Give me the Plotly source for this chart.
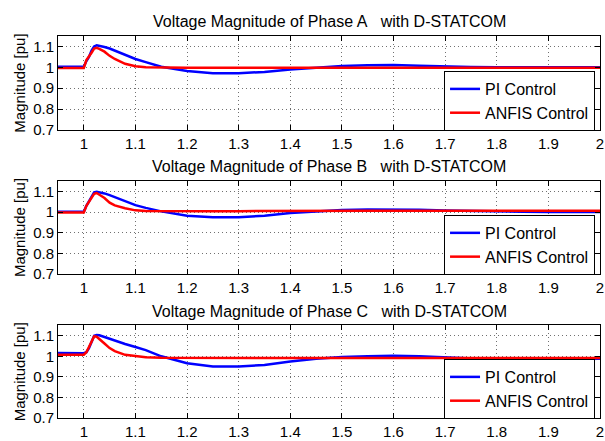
import plotly.graph_objects as go

# ---- data ----
t = [0.95, 1.0, 1.005, 1.01, 1.015, 1.02, 1.025, 1.03, 1.04, 1.05, 1.06, 1.08, 1.1,
     1.12, 1.15, 1.2, 1.25, 1.3, 1.35, 1.4, 1.45, 1.5, 1.55, 1.6, 1.65, 1.7, 1.75,
     1.8, 1.85, 1.9, 1.95, 2.0]

pi_a = [1.003, 1.003, 1.03, 1.05, 1.08, 1.10, 1.105, 1.103, 1.097, 1.09, 1.08, 1.06, 1.04,
        1.025, 1.003, 0.982, 0.972, 0.972, 0.978, 0.99, 0.998, 1.006, 1.010, 1.011, 1.008, 1.004, 1.002,
        1.0, 1.0, 1.0, 1.0, 1.0]
anfis_a = [0.997, 0.997, 1.035, 1.05, 1.07, 1.09, 1.093, 1.088, 1.075, 1.055, 1.04, 1.017, 1.005,
           1.0, 0.998, 0.998, 0.998, 0.998, 0.998, 0.998, 0.998, 0.998, 0.998, 0.998, 0.998, 0.998, 0.998,
           0.998, 0.998, 0.998, 0.998, 0.998]

pi_b = [1.001, 1.001, 1.03, 1.05, 1.075, 1.095, 1.098, 1.096, 1.09, 1.082, 1.072, 1.052, 1.033,
        1.02, 1.003, 0.982, 0.975, 0.975, 0.982, 0.995, 1.003, 1.01, 1.012, 1.012, 1.011, 1.007, 1.004,
        1.002, 1.001, 1.0, 1.0, 1.0]
anfis_b = [0.998, 0.998, 1.03, 1.05, 1.07, 1.088, 1.092, 1.085, 1.068, 1.045, 1.032, 1.018, 1.008,
           1.005, 1.004, 1.004, 1.004, 1.004, 1.005, 1.006, 1.006, 1.006, 1.006, 1.006, 1.006, 1.006, 1.006,
           1.006, 1.006, 1.006, 1.006, 1.006]

pi_c = [1.016, 1.015, 1.02, 1.04, 1.07, 1.10, 1.104, 1.102, 1.094, 1.085, 1.075, 1.06, 1.045,
        1.03, 1.0, 0.966, 0.95, 0.95, 0.958, 0.975, 0.988, 0.997, 1.0, 1.003, 1.0, 0.994, 0.99,
        0.985, 0.985, 0.985, 0.985, 0.988]
anfis_c = [1.008, 1.008, 1.02, 1.045, 1.075, 1.097, 1.095, 1.085, 1.062, 1.04, 1.025, 1.007, 1.0,
           0.995, 0.993, 0.992, 0.992, 0.992, 0.992, 0.992, 0.992, 0.992, 0.992, 0.992, 0.992, 0.992, 0.992,
           0.992, 0.992, 0.992, 0.992, 0.992]

phases = ["A", "B", "C"]
pi_series = [pi_a, pi_b, pi_c]
anfis_series = [anfis_a, anfis_b, anfis_c]

x_ticks = [1, 1.1, 1.2, 1.3, 1.4, 1.5, 1.6, 1.7, 1.8, 1.9, 2]
x_labels = ["1", "1.1", "1.2", "1.3", "1.4", "1.5", "1.6", "1.7", "1.8", "1.9", "2"]
y_ticks = [0.7, 0.8, 0.9, 1.0, 1.1]
y_labels = ["0.7", "0.8", "0.9", "1", "1.1"]

# ---- layout geometry (pixels) ----
W, H = 605, 441
L, R, T, B = 58, 604, 36, 424
panels_px = [(36, 131.5), (183.3, 277.7), (330, 424)]
ph = B - T
pw = R - L

def yfrac(py):
    return min(1.0, max(0.0, (B - py) / ph))

def yfrac_free(py):
    return (B - py) / ph

def xfrac(px):
    return (px - L) / pw

FONT = "Liberation Sans, Arial, sans-serif"

fig = go.Figure()
annotations = []
for i, ph_name in enumerate(phases):
    k = "" if i == 0 else str(i + 1)
    xa = "x" + k
    ya = "y" + k
    lg = "legend" + k
    fig.add_trace(go.Scatter(x=t, y=pi_series[i], mode="lines", name="PI Control",
                             line=dict(color="#0000FF", width=2.5), xaxis=xa, yaxis=ya, legend=lg))
    fig.add_trace(go.Scatter(x=t, y=anfis_series[i], mode="lines", name="ANFIS Control",
                             line=dict(color="#FF0000", width=2.5), xaxis=xa, yaxis=ya, legend=lg))
    top, bot = panels_px[i]
    dom = [yfrac(bot), yfrac(top)]
    axcommon = dict(showline=True, linecolor="black", linewidth=1, mirror="ticks",
                    ticks="inside", ticklen=5, tickcolor="black",
                    showgrid=True, gridcolor="#707070", griddash="1px,3px", gridwidth=1,
                    zeroline=False, ticklabeloverflow="allow",
                    tickfont=dict(family=FONT, size=15, color="black"))
    fig.update_layout(**{
        ("xaxis" + k): dict(domain=[0, 1], range=[0.95, 2.0], tickvals=x_ticks, ticktext=x_labels,
                            anchor=ya, **axcommon),
        ("yaxis" + k): dict(domain=dom, range=[0.7, 1.15], tickvals=y_ticks, ticktext=y_labels,
                            anchor=xa, title=dict(text="Magnitude [pu]", standoff=3,
                                                  font=dict(family=FONT, size=15, color="black")),
                            **axcommon),
        lg: dict(x=xfrac(599), y=yfrac_free(bot + 1), xanchor="right", yanchor="bottom",
                 bgcolor="white", bordercolor="black", borderwidth=1,
                 font=dict(family=FONT, size=16, color="black"),
                 tracegroupgap=0, itemwidth=30),
    })
    annotations.append(dict(
        text="Voltage Magnitude of Phase " + ph_name + "\u00a0\u00a0\u00a0with D-STATCOM",
        xref="paper", yref="paper", x=0.5, y=yfrac_free(top - 4), xanchor="center", yanchor="bottom",
        showarrow=False, font=dict(family=FONT, size=16, color="black")))

fig.update_layout(width=W, height=H, margin=dict(l=L, r=W - R, t=T, b=H - B),
                  paper_bgcolor="white", plot_bgcolor="white",
                  annotations=annotations, showlegend=True)

fig.write_html("out.html")
